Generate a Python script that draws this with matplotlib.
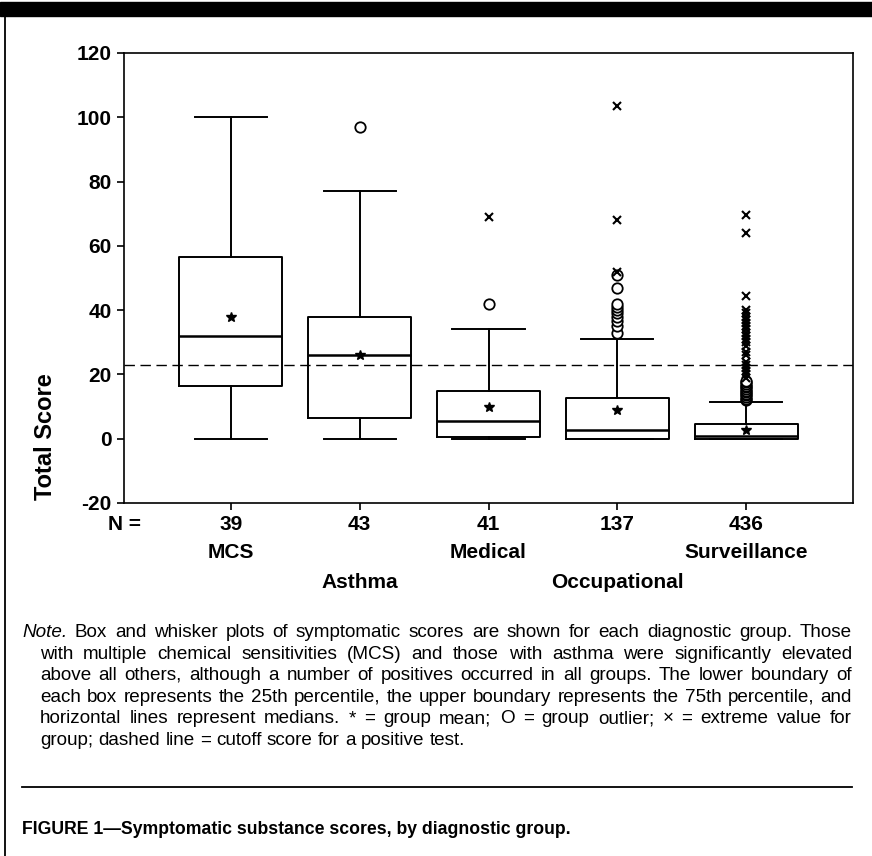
import matplotlib
matplotlib.use("Agg")
import matplotlib.pyplot as plt
from matplotlib.patches import Rectangle
from matplotlib.lines import Line2D

# ---------------- data ----------------
groups = ["MCS", "Asthma", "Medical", "Occupational", "Surveillance"]
n_counts = [39, 43, 41, 137, 436]
q1 = [16.4, 6.3, 0.6, 0.0, 0.0]
medians = [32.0, 26.0, 5.6, 2.7, 0.7]
q3 = [56.5, 38.0, 14.7, 12.8, 4.6]
whis_lo = [0.0, 0.0, 0.0, 0.0, 0.0]
whis_hi = [100.0, 77.0, 34.0, 31.0, 11.5]
means = [38.0, 26.0, 10.0, 9.0, 2.8]
outliers = [
    [],
    [97],
    [42],
    [33, 35, 36.5, 38, 39, 40, 41, 42, 47, 51],
    [12, 12.5, 13, 13.5, 14, 14.5, 15, 15.5, 16, 16.5, 17, 17.5, 18],
]
extremes = [
    [],
    [],
    [69],
    [52, 68, 103.5],
    [19, 20, 21, 22, 23, 24, 26, 27, 29, 30, 31, 32, 33, 34, 35, 36, 37,
     38, 39, 40, 44.5, 64, 69.5],
]
cutoff = 23
y_ticks = [-20, 0, 20, 40, 60, 80, 100, 120]

note_lines = [
    "Box and whisker plots of symptomatic scores are shown for each diagnostic group. Those",
    "with multiple chemical sensitivities (MCS) and those with asthma were significantly elevated",
    "above all others, although a number of positives occurred in all groups. The lower boundary of",
    "each box represents the 25th percentile, the upper boundary represents the 75th percentile, and",
    "horizontal lines represent medians. * = group mean; O = group outlier; \u00d7 = extreme value for",
    "group; dashed line = cutoff score for a positive test.",
]
caption = "FIGURE 1\u2014Symptomatic substance scores, by diagnostic group."

# ---------------- figure ----------------
W, H = 872, 856
plt.rcParams["font.family"] = ["Liberation Sans", "DejaVu Sans"]
fig = plt.figure(figsize=(W / 100, H / 100), dpi=100)


def fx(px):
    return px / W


def fy(py):
    return 1 - py / H


# page frame: top black bar + left rule
fig.patches.append(Rectangle((0, fy(16)), 1, 14 / H, transform=fig.transFigure,
                             color="black", zorder=0))
fig.lines.append(Line2D([fx(5), fx(5)], [fy(15), 0], transform=fig.transFigure,
                        color="black", lw=1.3))

ax = fig.add_axes([fx(124), fy(503), (853 - 124) / W, (503 - 53) / H])

positions = list(range(1, len(groups) + 1))
stats = []
for i in range(len(groups)):
    stats.append(dict(med=medians[i], q1=q1[i], q3=q3[i], whislo=whis_lo[i],
                      whishi=whis_hi[i], mean=means[i], fliers=[]))

lw = 1.4
ax.bxp(stats, positions=positions, widths=0.8, capwidths=0.56,
       showmeans=True, showfliers=False,
       boxprops=dict(color="black", lw=lw),
       medianprops=dict(color="black", lw=1.8),
       whiskerprops=dict(color="black", lw=lw),
       capprops=dict(color="black", lw=lw),
       meanprops=dict(marker="*", markerfacecolor="black",
                      markeredgecolor="black", markersize=7))

for p, vals in zip(positions, outliers):
    if vals:
        ax.plot([p] * len(vals), vals, ls="none", marker="o", mfc="white",
                mec="black", ms=7.5, mew=1.3, zorder=3)
for p, vals in zip(positions, extremes):
    if vals:
        ax.plot([p] * len(vals), vals, ls="none", marker="x", color="black",
                ms=5.5, mew=1.5, zorder=3)

ax.axhline(cutoff, color="black", lw=1.0, dashes=(7.5, 4))

ax.set_xlim(0.17, 5.83)
ax.set_ylim(-20, 120)
ax.set_yticks(y_ticks)
ax.set_yticklabels([str(v) for v in y_ticks], fontsize=15, fontweight="bold")
ax.set_xticks(positions)
ax.set_xticklabels([str(v) for v in n_counts], fontsize=15, fontweight="bold")
ax.tick_params(direction="out", length=5, width=1.2, pad=4)
for s in ax.spines.values():
    s.set_linewidth(1.2)

fig.text(fx(124), fy(524), "N =", ha="center", va="center", fontsize=15,
         fontweight="bold")
fig.text(fx(45), fy(437), "Total Score", rotation=90, ha="center", va="center",
         fontsize=17, fontweight="bold")

for i, (p, g) in enumerate(zip(positions, groups)):
    ypx = 553 if i % 2 == 0 else 582
    xpx = 124 + (p - 0.17) / (5.83 - 0.17) * (853 - 124)
    fig.text(fx(xpx), fy(ypx), g, ha="center", va="center", fontsize=15,
             fontweight="bold")

# ---------------- note (justified) ----------------
renderer = fig.canvas.get_renderer()


def width_px(s, fs, **kw):
    t = fig.text(0, 0, s, fontsize=fs, **kw)
    w = t.get_window_extent(renderer).width
    t.remove()
    return w


# size the note font so the last (unjustified) line spans ~430 px
note_fs = 10 * 430 / width_px(note_lines[-1], 10)


def draw_line(words, x0, x1, ybase, justify):
    widths = [width_px(w, note_fs, fontstyle=st) for w, st in words]
    space = width_px("a a", note_fs) - width_px("aa", note_fs)
    if justify and len(words) > 1:
        gap = (x1 - x0 - sum(widths)) / (len(words) - 1)
    else:
        gap = space
    x = x0
    for (w, st), wd in zip(words, widths):
        fig.text(fx(x), fy(ybase), w, fontsize=note_fs, fontstyle=st,
                 ha="left", va="baseline")
        x += wd + gap


baselines = [637, 659, 680, 702, 723, 745]
for k, line in enumerate(note_lines):
    words = [(w, "normal") for w in line.split(" ")]
    if k == 0:
        words = [("Note.", "italic")] + words
        x0 = 22
    else:
        x0 = 40
    draw_line(words, x0, 852, baselines[k], justify=(k < len(note_lines) - 1))

fig.lines.append(Line2D([fx(22), fx(852)], [fy(787), fy(787)],
                        transform=fig.transFigure, color="black", lw=1.3))
fig.text(fx(22), fy(834), caption, fontsize=12.7, fontweight="bold",
         ha="left", va="baseline")

fig.savefig("out.png", dpi=100)
